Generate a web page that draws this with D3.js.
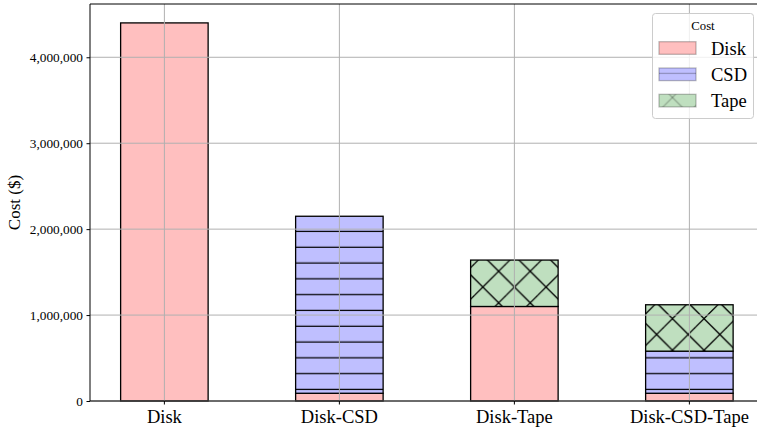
<!DOCTYPE html>
<html>
<head>
<meta charset="utf-8">
<script src="https://cdn.jsdelivr.net/npm/d3@7"></script>
<style>
  html, body { margin: 0; padding: 0; background: #fff; }
  svg { display: block; }
  text { font-family: "Liberation Serif", "DejaVu Serif", serif; fill: #000; }
</style>
</head>
<body>
<svg id="chart" width="757" height="433"></svg>
<script>
// Cost per storage configuration, split by tier
const categories = ["Disk", "Disk-CSD", "Disk-Tape", "Disk-CSD-Tape"];
const diskCost = [4400000, 90000, 1100000, 90000];
const csdCost  = [0, 2060000, 0, 490000];
const tapeCost = [0, 0, 540000, 540000];
const yTicks = [0, 1000000, 2000000, 3000000, 4000000];
const seriesNames = ["Disk", "CSD", "Tape"];

const plotLeft = 90, plotRight = 763.75, plotTop = 4, plotBottom = 401;

const svg = d3.select("#chart");
const defs = svg.append("defs");

const fills = { Disk: "#ffbfbf", CSD: "#bfbfff", Tape: "#bfdfbf" };

// Hatch patterns tiled in page space
function makePatterns(suffix, lineOpacity) {
  // horizontal lines for CSD
  const hp = defs.append("pattern")
    .attr("id", "hatchH" + suffix)
    .attr("patternUnits", "userSpaceOnUse")
    .attr("width", 40).attr("height", 15.8);
  hp.append("rect").attr("width", 40).attr("height", 15.8).attr("fill", fills.CSD);
  hp.append("line").attr("x1", -1).attr("x2", 41).attr("y1", 10.3).attr("y2", 10.3)
    .attr("stroke", "#000").attr("stroke-opacity", lineOpacity).attr("stroke-width", 1.3);

  // crossed diagonals for Tape
  const s = 31.6;
  const xp = defs.append("pattern")
    .attr("id", "hatchX" + suffix)
    .attr("patternUnits", "userSpaceOnUse")
    .attr("width", s).attr("height", s);
  xp.append("rect").attr("width", s).attr("height", s).attr("fill", fills.Tape);
  const c = 6.2, d = 11.5;
  for (let k = -2; k <= 2; k++) {
    xp.append("line")
      .attr("x1", c + k * s - s).attr("y1", -s)
      .attr("x2", c + k * s + 2 * s).attr("y2", 2 * s)
      .attr("stroke", "#000").attr("stroke-opacity", lineOpacity).attr("stroke-width", 1.3);
    xp.append("line")
      .attr("x1", d + k * s + s).attr("y1", -s)
      .attr("x2", d + k * s - 2 * s).attr("y2", 2 * s)
      .attr("stroke", "#000").attr("stroke-opacity", lineOpacity).attr("stroke-width", 1.3);
  }
}
makePatterns("", 1);
makePatterns("L", 0.25);

const paint = {
  Disk: fills.Disk,
  CSD: "url(#hatchH)",
  Tape: "url(#hatchX)"
};
const paintLegend = {
  Disk: fills.Disk,
  CSD: "url(#hatchHL)",
  Tape: "url(#hatchXL)"
};

const x = d3.scaleBand()
  .domain(categories)
  .range([plotLeft, plotRight])
  .paddingInner(0.5)
  .paddingOuter(0.175);

const y = d3.scaleLinear()
  .domain([0, 4620000])
  .range([plotBottom, plotTop]);

// Stacked segments
const rows = categories.map((c, i) => ({ cat: c, Disk: diskCost[i], CSD: csdCost[i], Tape: tapeCost[i] }));
const stacked = d3.stack().keys(seriesNames)(rows);

const barG = svg.append("g").attr("class", "bars");
stacked.forEach(layer => {
  const name = layer.key;
  barG.selectAll(null)
    .data(layer.filter(seg => seg[1] - seg[0] > 0))
    .enter().append("rect")
    .attr("x", seg => x(seg.data.cat))
    .attr("width", x.bandwidth())
    .attr("y", seg => y(seg[1]))
    .attr("height", seg => y(seg[0]) - y(seg[1]))
    .attr("fill", paint[name])
    .attr("stroke", "#000")
    .attr("stroke-width", 1.3);
});

// Grid drawn above the bars
const gridG = svg.append("g").attr("class", "grid");
gridG.selectAll(null).data(yTicks).enter().append("line")
  .attr("x1", plotLeft).attr("x2", plotRight)
  .attr("y1", d => y(d)).attr("y2", d => y(d))
  .attr("stroke", "#b0b0b0").attr("stroke-width", 1);
gridG.selectAll(null).data(categories).enter().append("line")
  .attr("x1", d => x(d) + x.bandwidth() / 2).attr("x2", d => x(d) + x.bandwidth() / 2)
  .attr("y1", plotTop).attr("y2", plotBottom)
  .attr("stroke", "#b0b0b0").attr("stroke-width", 1);

// Axes
const yAxis = d3.axisLeft(y)
  .tickValues(yTicks)
  .tickFormat(d3.format(","))
  .tickSizeInner(3.5).tickSizeOuter(0).tickPadding(3.5);
const yg = svg.append("g").attr("transform", `translate(${plotLeft},0)`).call(yAxis);
yg.select(".domain").remove();
yg.selectAll(".tick line").attr("stroke", "#000").attr("stroke-width", 1);
yg.selectAll(".tick text")
  .style("font-family", '"Liberation Serif", serif')
  .style("font-size", "13.3px");

const xAxis = d3.axisBottom(x).tickSizeInner(3.5).tickSizeOuter(0).tickPadding(5);
const xg = svg.append("g").attr("transform", `translate(0,${plotBottom})`).call(xAxis);
xg.select(".domain").remove();
xg.selectAll(".tick line").attr("stroke", "#000").attr("stroke-width", 1);
xg.selectAll(".tick text")
  .style("font-family", '"Liberation Serif", serif')
  .style("font-size", "18.5px");

// Frame
const spines = svg.append("g").attr("fill", "none").attr("stroke", "#000").attr("stroke-width", 1);
spines.append("line").attr("x1", plotLeft).attr("x2", plotLeft).attr("y1", plotTop).attr("y2", plotBottom);
spines.append("line").attr("x1", plotLeft).attr("x2", plotRight).attr("y1", plotTop).attr("y2", plotTop);
spines.append("line").attr("x1", plotLeft).attr("x2", plotRight).attr("y1", plotBottom).attr("y2", plotBottom);

// Axis title
svg.append("text")
  .attr("transform", `translate(19.5,${(plotTop + plotBottom) / 2}) rotate(-90)`)
  .attr("text-anchor", "middle")
  .style("font-size", "17px")
  .text("Cost ($)");

// Legend
const lg = svg.append("g").attr("class", "legend");
lg.append("rect")
  .attr("x", 652.5).attr("y", 13.5).attr("width", 101).attr("height", 105)
  .attr("rx", 3).attr("ry", 3)
  .attr("fill", "#fff").attr("fill-opacity", 0.8)
  .attr("stroke", "#cccccc").attr("stroke-width", 1);
lg.append("text")
  .attr("x", 703).attr("y", 30)
  .attr("text-anchor", "middle")
  .style("font-size", "12.7px")
  .text("Cost");
seriesNames.forEach((name, i) => {
  const py = 41.7 + i * 26.3;
  lg.append("rect")
    .attr("x", 659).attr("y", py).attr("width", 37).attr("height", 12.6)
    .attr("fill", paintLegend[name])
    .attr("stroke", "#000").attr("stroke-opacity", 0.25).attr("stroke-width", 1.3);
  lg.append("text")
    .attr("x", 711).attr("y", py + 12.8)
    .style("font-size", "18.5px")
    .text(name);
});
</script>
</body>
</html>
